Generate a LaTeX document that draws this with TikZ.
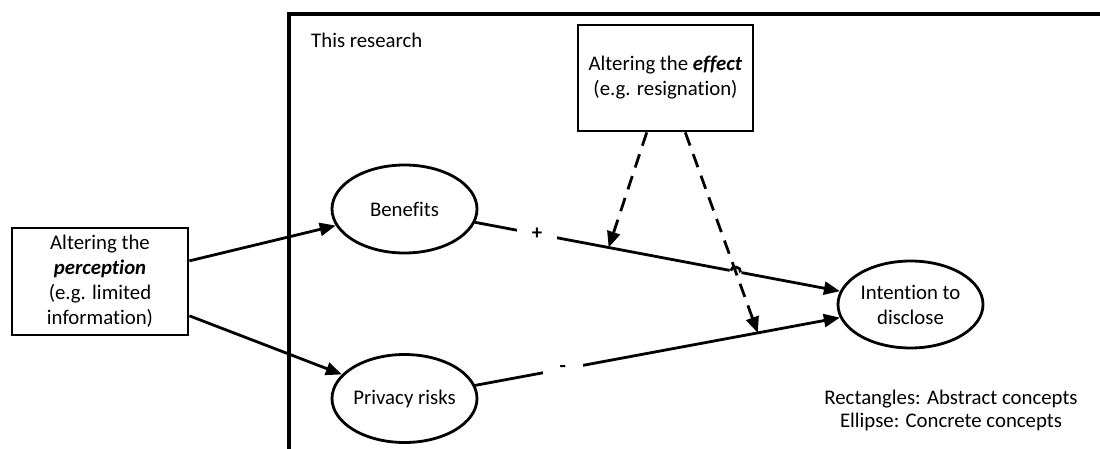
\documentclass[tikz,border=0pt]{standalone}
\usepackage{fontspec}
\setmainfont{Carlito}[Ligatures={NoCommon}]
\usetikzlibrary{arrows.meta,shapes.geometric,calc,intersections}
\begin{document}
\begin{tikzpicture}[x=1pt,y=-1pt,
  every node/.style={font=\fontsize{20.8}{25}\selectfont},
  conceptbox/.style={draw,line width=2.8pt,rectangle,inner sep=0pt,align=center},
  concept/.style={draw,line width=2.8pt,ellipse,inner sep=0pt,minimum width=145pt,minimum height=88pt,align=center},
  link/.style={line width=2.8pt,-{Triangle[length=16pt,width=13pt]}},
  modlink/.style={line width=2.8pt,dash pattern=on 14pt off 9pt,-{Triangle[length=16pt,width=13pt]}},
  sign/.style={fill=white,inner sep=0pt,minimum width=40pt,minimum height=14pt,font=\fontsize{20.8}{25}\selectfont\bfseries},
  frameline/.style={line width=4pt}
]
\useasboundingbox (0,0) rectangle (1100,449);
% frame of this research
\draw[frameline] (1106,14) -- (289,14) -- (289,455);
\node[anchor=west,inner sep=0pt] (thisres) at (311,40) {This research};

% nodes
\node[conceptbox,minimum width=176pt,minimum height=107pt] (lbox) at (100,281.5)
  {Altering the\\\textbf{\textit{perception}}\\(e.g. limited\\information)};
\node[conceptbox,minimum width=175pt,minimum height=106pt] (eff) at (665.5,78)
  {Altering the \textbf{\textit{effect}}\\(e.g. resignation)};
\node[concept] (ben) at (404.5,209) {Benefits};
\node[concept] (priv) at (404.5,398.5) {Privacy risks};
\node[concept,minimum width=145pt,minimum height=87pt] (int) at (910.5,304.5) {Intention to\\disclose};

% connectors
\draw[link] (lbox.13) -- (ben);
\draw[link] (lbox.-21) -- (priv);
\draw[link,name path=bi] (ben) -- node[sign,pos=0.17] (plus) {+} coordinate[pos=0.366] (t1) (int);
\draw[link] (priv) -- node[sign,pos=0.24] (minus) {-} coordinate[pos=0.775] (t2) (int);
\path[name path=dtwo] (eff.-70) -- (t2);
\path[name intersections={of=bi and dtwo,by=xing}];
% line hop of the solid line over the dashed one
\coordinate (hopa) at ($(xing)!5pt!(ben)$);
\coordinate (hopb) at ($(xing)!5pt!(int)$);
\draw[white,line width=4pt] ($(xing)!6pt!(ben)$) -- ($(xing)!6pt!(int)$);
\draw[line width=2.8pt] (hopa) to[bend left=90,looseness=1.5] (hopb);
\draw[modlink] (eff.-109) -- (t1);
\draw[modlink] (eff.-70) -- (t2);

% legend
\node[align=center,inner sep=0pt] (legend) at (951,410)
  {Rectangles: Abstract concepts\\[-2pt]Ellipse: Concrete concepts};
\end{tikzpicture}
\end{document}
